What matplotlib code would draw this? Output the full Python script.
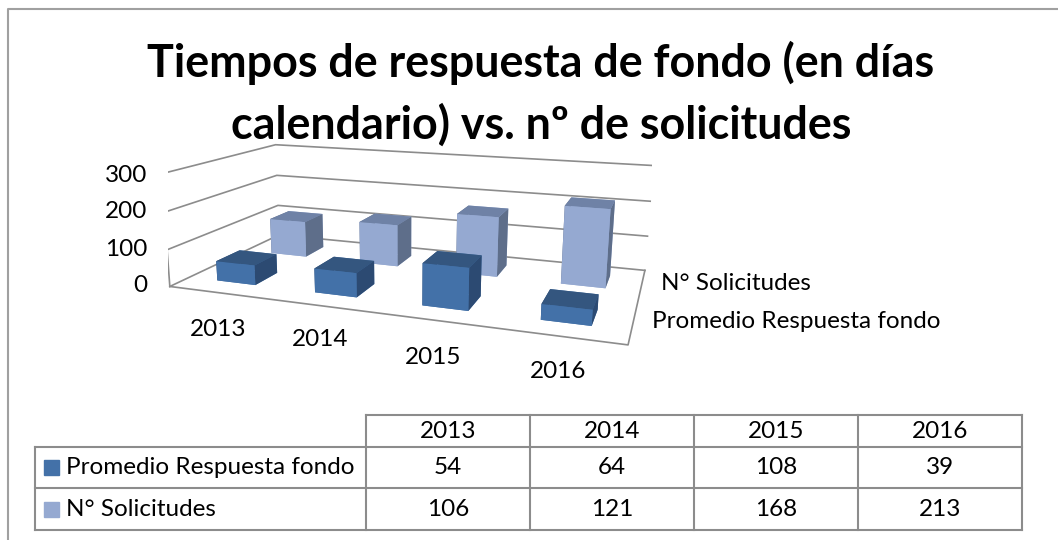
import matplotlib
matplotlib.use('Agg')
import matplotlib.pyplot as plt
from matplotlib.patches import Rectangle

plt.rcParams['font.family'] = ['Lato', 'DejaVu Sans']

years = ['2013', '2014', '2015', '2016']
series_names = ['Promedio Respuesta fondo', 'N° Solicitudes']
promedio = [54, 64, 108, 39]
solicitudes = [106, 121, 168, 213]
z_ticks = [0, 100, 200, 300]

W, H = 1058, 540
fig = plt.figure(figsize=(W / 100, H / 100), dpi=100)

# camera values found by fitting to the corners of the reference
ax = fig.add_axes([0.15855, 0.12334, 0.45772, 0.89679], projection='3d', computed_zorder=False)
ax.set_xlim(0, 4)
ax.set_ylim(0, 2)
ax.set_zlim(0, 300)
ax.set_axis_off()
ax.patch.set_alpha(0)
ax.view_init(elev=13.631, azim=-70.689, roll=-0.233)
ax.set_proj_type('persp', focal_length=0.29704)
ax.set_box_aspect((4, 1.9916, 1.0271))

# walls and gridlines
grey = '#8c8c8c'
for z in z_ticks:
    ax.plot([0, 0, 4], [0, 2, 2], [z, z, z], color=grey, lw=1.2, zorder=1)
ax.plot([0, 0], [0, 0], [0, 300], color=grey, lw=1.2, zorder=1)
ax.plot([0, 4, 4], [0, 0, 2], [0, 0, 0], color=grey, lw=1.2, zorder=1)

# order for bar3d: bottom, top, front, back, left, right
face_back = ['#95a9d1', '#6f82a6', '#95a9d1', '#95a9d1', '#5e6e8a', '#5e6e8a']
face_front = ['#4371a8', '#34567f', '#4371a8', '#4371a8', '#2c4a72', '#2c4a72']
bw = 0.4
for i, v in enumerate(solicitudes):
    ax.bar3d(i + .5 - bw / 2, 1.5 - bw / 2, 0, bw, bw, v, color=face_back, shade=False, linewidth=0, zorder=3)
for i, v in enumerate(promedio):
    ax.bar3d(i + .5 - bw / 2, .5 - bw / 2, 0, bw, bw, v, color=face_front, shade=False, linewidth=0, zorder=4)

# flat overlay in picture pixels for text and table
ov = fig.add_axes([0, 0, 1, 1])
ov.set_xlim(0, W)
ov.set_ylim(H, 0)
ov.axis('off')
ov.patch.set_alpha(0)
ov.plot([8, 8, W], [H, 9, 9], color='#a0a0a0', lw=1.5)
ov.text(541, 63, 'Tiempos de respuesta de fondo (en días', ha='center', va='center', fontsize=32.3, fontweight='bold')
ov.text(541, 125, 'calendario) vs. nº de solicitudes', ha='center', va='center', fontsize=32.3, fontweight='bold')
fs = 17.5
for z, y in zip(z_ticks, [286, 249, 212, 176]):
    ov.text(147, y, str(z), ha='right', va='center', fontsize=fs)
for lab, x, y in zip(years, [218, 320, 433, 558], [330, 340, 358, 371]):
    ov.text(x, y, lab, ha='center', va='center', fontsize=fs)
ov.text(661, 284, series_names[1], ha='left', va='center', fontsize=fs)
ov.text(652, 321, series_names[0], ha='left', va='center', fontsize=fs)

col_x = [35, 366, 530, 694, 858, 1022]
ov.plot([366, 1022], [415, 415], color=grey, lw=1.5)
ov.plot([35, 1022], [447, 447], color=grey, lw=1.5)
ov.plot([35, 1022], [488, 488], color=grey, lw=1.5)
ov.plot([35, 1022], [530, 530], color=grey, lw=1.5)
ov.plot([35, 35], [447, 530], color=grey, lw=1.5)
for x in col_x[1:]:
    ov.plot([x, x], [415, 530], color=grey, lw=1.5)
for i, lab in enumerate(years):
    xc = (col_x[i + 1] + col_x[i + 2]) / 2
    ov.text(xc, 431, lab, ha='center', va='center', fontsize=fs)
    ov.text(xc, 468, str(promedio[i]), ha='center', va='center', fontsize=fs)
    ov.text(xc, 509, str(solicitudes[i]), ha='center', va='center', fontsize=fs)
ov.add_patch(Rectangle((44, 460), 15, 15, color='#4371a8'))
ov.add_patch(Rectangle((44, 502), 15, 15, color='#95a9d1'))
ov.text(66, 468, series_names[0], ha='left', va='center', fontsize=fs)
ov.text(66, 509, series_names[1], ha='left', va='center', fontsize=fs)

fig.savefig('out.png', dpi=100)
